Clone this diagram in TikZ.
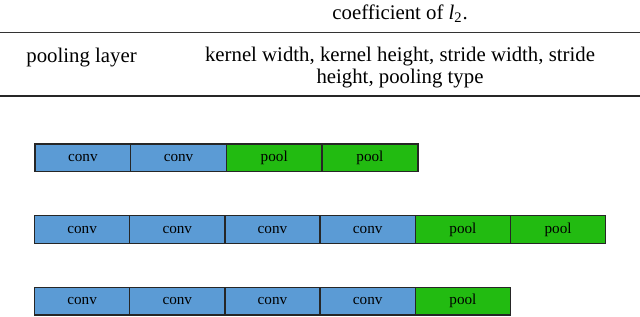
\documentclass[tikz,border=0pt]{standalone}
\usepackage{fontspec}
\setmainfont{Liberation Serif}
\newfontfamily\tabfont{Liberation Serif}
\definecolor{convblue}{RGB}{91,155,213}
\definecolor{poolgreen}{RGB}{34,187,17}
\begin{document}
\begin{tikzpicture}[x=0.5pt,y=-0.5pt,
  blk/.style={draw=black!85, line width=0.7pt, minimum width=47.6pt, minimum height=13.8pt,
    inner sep=0pt, outer sep=0pt, font=\tabfont\fontsize{7.6}{9}\selectfont, anchor=west},
  cv/.style={blk, fill=convblue},
  pl/.style={blk, fill=poolgreen},
  tab/.style={font=\tabfont\fontsize{10.4}{12}\selectfont, inner sep=0pt}]
\useasboundingbox (0,0) rectangle (640,316);
% table fragment
\node[tab, anchor=base west] (coef) at (332,19) {coefficient of {\itshape l}\textsubscript{2}.};
\draw[line width=0.5pt, black!80] (0,32.7) -- (640,32.7);
\node[tab, anchor=base west] (pool) at (26,62) {pooling layer};
\node[tab, anchor=base] (kw1) at (400,61) {kernel width, kernel height, stride width, stride};
\node[tab, anchor=base] (kw2) at (400,83) {height, pooling type};
\draw[line width=1pt, black!85] (0,96) -- (640,96);
% row 1
\node[cv, minimum width=47.85pt] (a1) at (35,157.9) {conv};
\node[cv, minimum width=47.85pt] (a2) at (a1.east) {conv};
\node[pl, minimum width=47.85pt] (a3) at (a2.east) {pool};
\node[pl, minimum width=47.85pt] (a4) at (a3.east) {pool};
% row 2
\node[cv] (b1) at (34.5,229.5) {conv};
\node[cv] (b2) at (b1.east) {conv};
\node[cv] (b3) at (b2.east) {conv};
\node[cv] (b4) at (b3.east) {conv};
\node[pl] (b5) at (b4.east) {pool};
\node[pl] (b6) at (b5.east) {pool};
% row 3
\node[cv] (c1) at (34.5,301.2) {conv};
\node[cv] (c2) at (c1.east) {conv};
\node[cv] (c3) at (c2.east) {conv};
\node[cv] (c4) at (c3.east) {conv};
\node[pl] (c5) at (c4.east) {pool};
\end{tikzpicture}
\end{document}
